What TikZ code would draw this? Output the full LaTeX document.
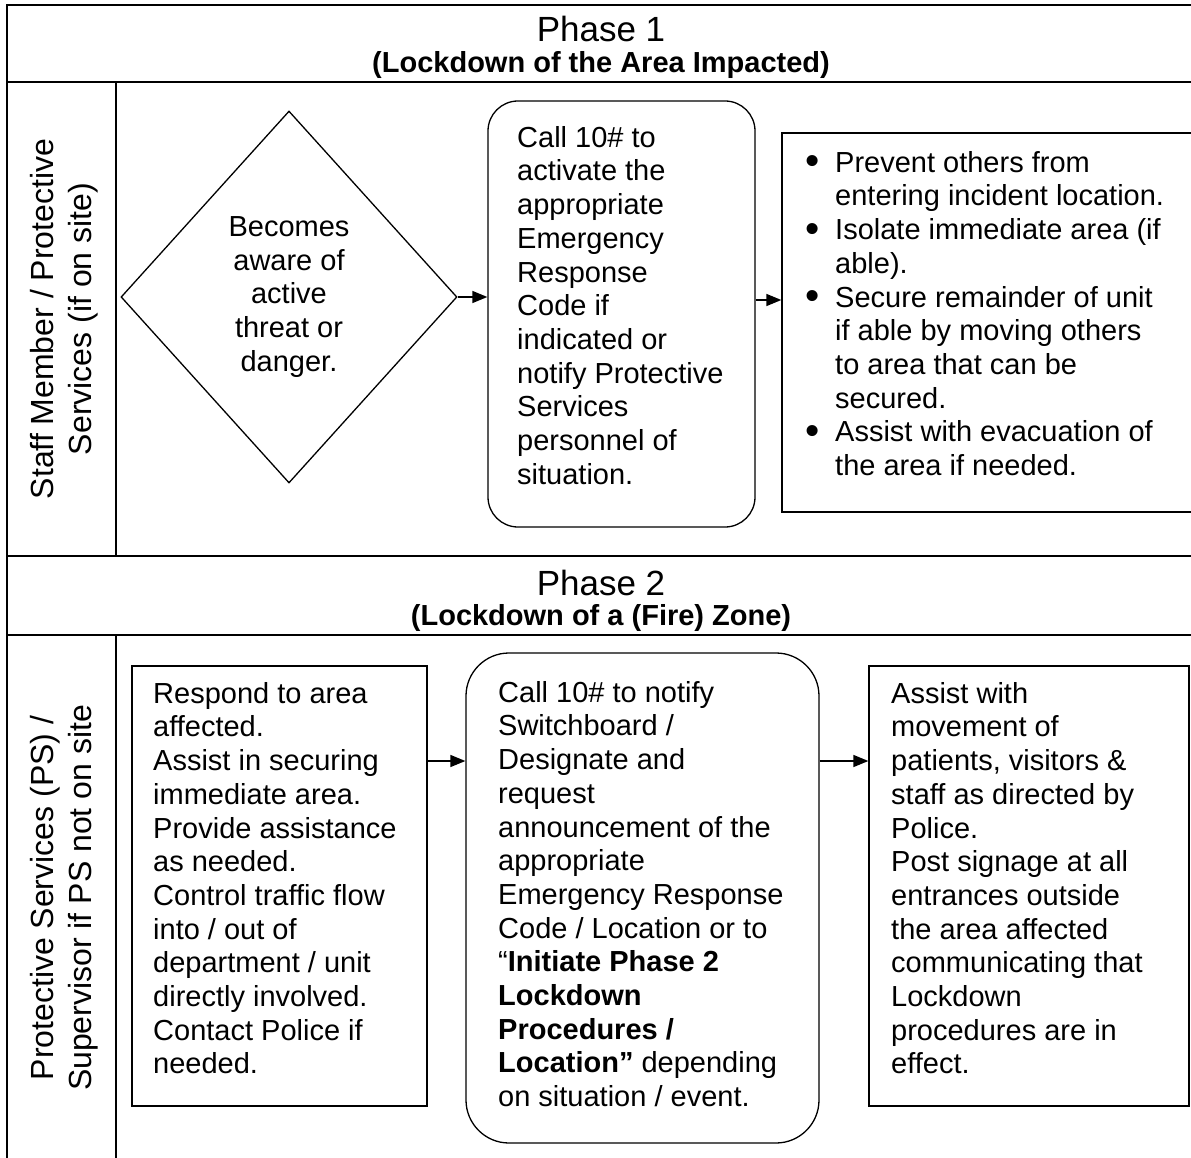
\documentclass[tikz,border=0pt]{standalone}
\usepackage{fontspec}
\setmainfont{Liberation Sans}
\usetikzlibrary{arrows.meta,shapes.geometric}

\newcommand{\body}{\fontsize{29}{33.7}\selectfont}
\newcommand{\lanefont}{\fontsize{32}{38}\selectfont}
\newcommand{\itm}{\makebox[32pt][l]{\hspace*{2pt}\raisebox{-2.5pt}{\scalebox{1.4}{\textbullet}}}}
\newcommand{\ind}{\hspace*{32pt}}

\tikzset{
  grid/.style={line width=2pt},
  shp/.style={draw, line width=1.3pt, inner sep=0pt},
  sqbox/.style={shp, rectangle},
  rbox/.style={shp, rectangle, rounded corners=#1},
  txt/.style={anchor=north west, align=left, inner sep=0pt, font=\body},
  lane/.style={rotate=90, align=center, inner sep=0pt, font=\lanefont},
  arr/.style={line width=1.4pt, -{Triangle[length=15pt,width=12pt]}},
}

\begin{document}
\begin{tikzpicture}[x=1pt, y=-1pt]
  \useasboundingbox (0,0) rectangle (1191,1158);

  % Tabla
  \draw[grid] (7,5) rectangle (1198,1165);
  \draw[grid] (7,82) -- (1198,82);
  \draw[grid] (7,556) -- (1198,556);
  \draw[grid] (7,635) -- (1198,635);
  \draw[grid] (116,82) -- (116,556);
  \draw[grid] (116,635) -- (116,1165);

  % Fase 1
  \node[font=\fontsize{35}{40}\selectfont, anchor=base] (ph1) at (601,42) {Phase 1};
  \node[font=\fontsize{29}{34}\selectfont\bfseries, anchor=base] (ph1sub) at (601,73)
        {(Lockdown of the Area Impacted)};
  \node[lane] (lane1) at (64,319) {Staff Member / Protective\\Services (if on site)};

  \node[shp, diamond, minimum width=336pt, minimum height=372pt, align=center, font=\body]
        (aware) at (289,297) {Becomes\\aware of\\active\\threat or\\danger.};
  \node[rbox=30pt, minimum width=267pt, minimum height=426pt] (call1) at (621.5,314) {};
  \node[txt] (call1txt) at (517,126) {Call 10\# to\\activate the\\appropriate\\Emergency\\Response\\Code if\\indicated or\\notify Protective\\Services\\personnel of\\situation.};
  \node[sqbox, minimum width=416pt, minimum height=379pt] (acts1) at (990,322.5) {};
  \node[txt] (acts1txt) at (803,151) {\itm Prevent others from\\\ind entering incident location.\\\itm Isolate immediate area (if\\\ind able).\\\itm Secure remainder of unit\\\ind if able by moving others\\\ind to area that can be\\\ind secured.\\\itm Assist with evacuation of\\\ind the area if needed.};

  \coordinate (lvl1) at (0,300);
  \draw[arr] (aware.east) -- (aware.east -| call1.west);
  \draw[arr] (call1.east |- lvl1) -- (acts1.west |- lvl1);

  % Fase 2
  \node[font=\fontsize{35}{40}\selectfont, anchor=base] (ph2) at (601,595) {Phase 2};
  \node[font=\fontsize{29}{34}\selectfont\bfseries, anchor=base] (ph2sub) at (601,625)
        {(Lockdown of a (Fire) Zone)};
  \node[lane] (lane2) at (64,898) {Protective Services (PS) /\\Supervisor if PS not on site};

  \node[sqbox, minimum width=295pt, minimum height=440pt] (resp) at (279.5,886) {};
  \node[txt] (resptxt) at (153,682) {Respond to area\\affected.\\Assist in securing\\immediate area.\\Provide assistance\\as needed.\\Control traffic flow\\into / out of\\department / unit\\directly involved.\\Contact Police if\\needed.};
  \node[rbox=43pt, minimum width=353pt, minimum height=490pt] (call2) at (642.5,898) {};
  \node[txt] (call2txt) at (498,681) {Call 10\# to notify\\Switchboard /\\Designate and\\request\\announcement of the\\appropriate\\Emergency Response\\Code / Location or to\\“\textbf{Initiate Phase 2}\\\textbf{Lockdown}\\\textbf{Procedures /}\\\textbf{Location”} depending\\on situation / event.};
  \node[sqbox, minimum width=320pt, minimum height=440pt] (assist) at (1029,886) {};
  \node[txt] (assisttxt) at (891,682) {Assist with\\movement of\\patients, visitors \&\\staff as directed by\\Police.\\Post signage at all\\entrances outside\\the area affected\\communicating that\\Lockdown\\procedures are in\\effect.};

  \coordinate (lvl2) at (0,761);
  \draw[arr] (resp.east |- lvl2) -- (call2.west |- lvl2);
  \draw[arr] (call2.east |- lvl2) -- (assist.west |- lvl2);
\end{tikzpicture}
\end{document}
